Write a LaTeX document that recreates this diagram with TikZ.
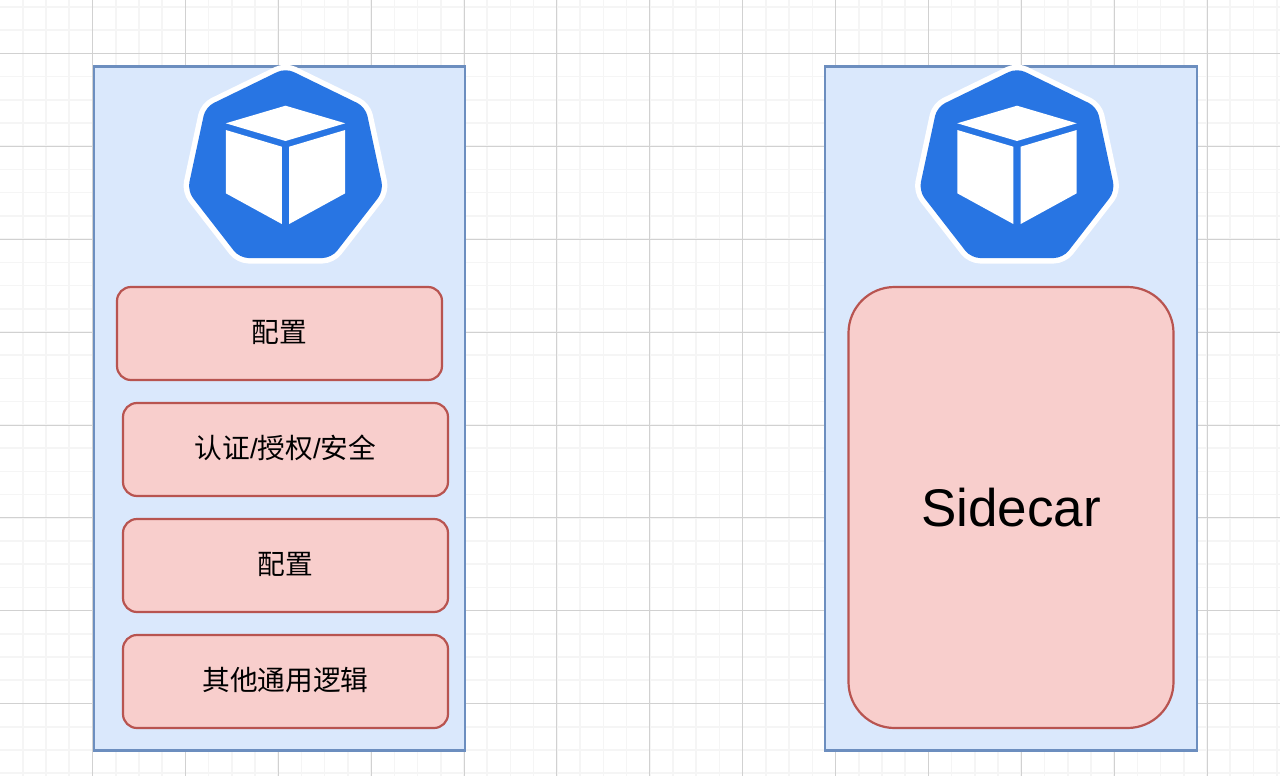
\documentclass[tikz,border=0pt]{standalone}
\usepackage{fontspec}
\setmainfont{Liberation Sans}
\newfontfamily\cjk{Noto Sans CJK SC}
\definecolor{podfill}{HTML}{DAE8FC}
\definecolor{podline}{HTML}{6C8EBF}
\definecolor{partfill}{HTML}{F8CECC}
\definecolor{partline}{HTML}{B85450}
\definecolor{kubeblue}{HTML}{2875E3}
\tikzset{
    x=1pt, y=-1pt,
    minorline/.style={draw=black!4, line width=1.6pt},
    majorline/.style={draw=black!18, line width=1pt},
    pod/.style={rectangle, draw=podline, fill=podfill, line width=2.2pt, minimum width=371.5pt, minimum height=684pt},
    partbox/.style={rectangle, draw=partline, fill=partfill, line width=2.2pt, minimum width=325pt},
    part/.style={partbox, rounded corners=14pt, minimum height=93pt, text height=21pt, text depth=4pt, font=\fontsize{27.7}{33}\selectfont\cjk},
    bigpart/.style={partbox, rounded corners=46pt, minimum height=441pt, font=\fontsize{53}{60}\selectfont\rmfamily},
    kubelogo/.pic={
        \draw[white, line width=11pt, line join=round, rounded corners=9pt]
            (0,-3) -- (80,36) -- (98,120) -- (46,187) -- (-46,187) -- (-98,120) -- (-80,36) -- cycle;
        \fill[kubeblue, rounded corners=9pt]
            (0,-3) -- (80,36) -- (98,120) -- (46,187) -- (-46,187) -- (-98,120) -- (-80,36) -- cycle;
        \fill[white] (0,34.7) -- (59.7,52.3) -- (0,70) -- (-59.7,52.3) -- cycle;
        \fill[white] (-59.7,59) -- (-3.7,75.7) -- (-3.7,153) -- (-59.7,122.3) -- cycle;
        \fill[white] (3.7,75.7) -- (59.7,59) -- (59.7,122.3) -- (3.7,153) -- cycle;
    }
}
\begin{document}
\begin{tikzpicture}

\useasboundingbox (0,0) rectangle (1280,776);
\fill[white] (0,0) rectangle (1280,776);

% Grid
\foreach \i in {0,...,55} {
    \draw[minorline] ({-0.4+23.22*\i},0) -- ({-0.4+23.22*\i},776);
}
\foreach \i in {0,...,33} {
    \draw[minorline] (0,{6.9+23.22*\i}) -- (1280,{6.9+23.22*\i});
}
\foreach \i in {0,...,13} {
    \draw[majorline] ({92.5+92.88*\i},0) -- ({92.5+92.88*\i},776);
}
\foreach \i in {0,...,7} {
    \draw[majorline] (0,{53.5+92.88*\i}) -- (1280,{53.5+92.88*\i});
}

% Left pod
\node[pod] (podleft) at (279.5,408.5) {};
\pic at (285.5,71) {kubelogo};
\node[part] (configa) at (279.5,333.5) {配置};
\node[part] (auth) at (285.5,449.5) {认证{\rmfamily/}授权{\rmfamily/}安全};
\node[part] (configb) at (285.5,565.5) {配置};
\node[part] (common) at (285.5,681.5) {其他通用逻辑};

% Right pod
\node[pod] (podright) at (1011,408.5) {};
\pic at (1017,71) {kubelogo};
\node[bigpart] (sidecar) at (1011,507.5) {Sidecar};

\end{tikzpicture}
\end{document}
